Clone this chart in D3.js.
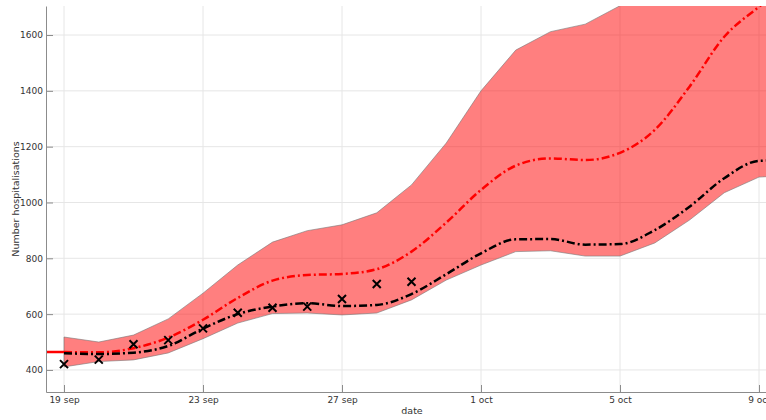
<!DOCTYPE html>
<html>
<head>
<meta charset="utf-8">
<script src="https://cdn.jsdelivr.net/npm/d3@7"></script>
<style>
  body { margin: 0; background: #fff; }
  svg { display: block; font-family: "DejaVu Sans", sans-serif; }
  .grid line { stroke: #e6e6e6; stroke-width: 1; }
  .axis path, .axis line { stroke: #8c8c8c; }
  .axis text { fill: #333; font-size: 9px; font-family: "DejaVu Sans", sans-serif; }
</style>
</head>
<body>
<svg id="chart"></svg>
<script>
// days shown, starting 19 sep
const days = ['2020-09-19', '2020-09-20', '2020-09-21', '2020-09-22', '2020-09-23',
  '2020-09-24', '2020-09-25', '2020-09-26', '2020-09-27', '2020-09-28', '2020-09-29',
  '2020-09-30', '2020-10-01', '2020-10-02', '2020-10-03', '2020-10-04', '2020-10-05',
  '2020-10-06', '2020-10-07', '2020-10-08', '2020-10-09', '2020-10-10'];

const bandUpper = [518, 500, 525, 583, 675, 776, 858, 899, 920, 963, 1063, 1213,
  1400, 1546, 1612, 1639, 1705, 1780, 1860, 1930, 1990, 2050];
const bandLower = [411, 430, 436, 461, 512, 568, 602, 604, 597, 604, 651, 722,
  776, 824, 827, 808, 808, 855, 937, 1035, 1091, 1098];
const redMedian = [464, 463, 478, 516, 580, 658, 720, 740, 744, 761, 824, 928,
  1045, 1132, 1158, 1152, 1178, 1260, 1415, 1594, 1701, 1800];
const blackMedian = [460, 457, 462, 486, 548, 600, 627, 639, 629, 633, 672, 743,
  818, 868, 869, 849, 851, 901, 985, 1087, 1149, 1152];

// observed counts
const obsDays = days.slice(0, 11);
const observed = [421, 437, 492, 507, 549, 605, 623, 627, 654, 708, 716];

// fit before the forecast start
const fitDays = ['2020-09-17', '2020-09-19'];
const fitValues = [464, 464];

const xTicks = ['2020-09-19', '2020-09-23', '2020-09-27', '2020-10-01', '2020-10-05', '2020-10-09'];
const yTicks = [400, 600, 800, 1000, 1200, 1400, 1600];
const months = ['jan', 'feb', 'mar', 'apr', 'may', 'jun', 'jul', 'aug', 'sep', 'oct', 'nov', 'dec'];

const width = 766, height = 420;
const margin = { top: 6, right: 0, bottom: 28, left: 46 };
const parse = d3.utcParse('%Y-%m-%d');

const svg = d3.select('#chart').attr('width', width).attr('height', height);

const x = d3.scaleUtc()
  .domain([new Date(Date.UTC(2020, 8, 18, 11, 34)), new Date(Date.UTC(2020, 9, 9, 4, 50))])
  .range([margin.left, width - margin.right]);

const y = d3.scaleLinear()
  .domain([321, 1704])
  .range([height - margin.bottom, margin.top]);

svg.append('defs').append('clipPath').attr('id', 'clip')
  .append('rect')
  .attr('x', margin.left).attr('y', margin.top)
  .attr('width', width - margin.left - margin.right)
  .attr('height', height - margin.top - margin.bottom);

// grid
const grid = svg.append('g').attr('class', 'grid');
grid.selectAll('.gy').data(yTicks).enter().append('line')
  .attr('x1', margin.left).attr('x2', width - margin.right)
  .attr('y1', d => y(d)).attr('y2', d => y(d));
grid.selectAll('.gx').data(xTicks).enter().append('line')
  .attr('x1', d => x(parse(d))).attr('x2', d => x(parse(d)))
  .attr('y1', margin.top).attr('y2', height - margin.bottom);

const plot = svg.append('g').attr('clip-path', 'url(#clip)');

const bandData = days.map((d, i) => ({ date: parse(d), lo: bandLower[i], hi: bandUpper[i] }));

const area = d3.area()
  .x(d => x(d.date))
  .y0(d => y(d.lo))
  .y1(d => y(d.hi));

plot.append('path')
  .datum(bandData)
  .attr('d', area)
  .attr('fill', 'rgba(255,0,0,0.5)')
  .attr('stroke', '#777')
  .attr('stroke-width', 0.6);

const line = d3.line()
  .x(d => x(d.date))
  .y(d => y(d.v))
  .curve(d3.curveMonotoneX);

const series = (dates, vals) => dates.map((d, i) => ({ date: parse(d), v: vals[i] }));

plot.append('path')
  .datum(series(fitDays, fitValues))
  .attr('d', d3.line().x(d => x(d.date)).y(d => y(d.v)))
  .attr('fill', 'none')
  .attr('stroke', '#ff0000')
  .attr('stroke-width', 2.5);

plot.append('path')
  .datum(series(days, redMedian))
  .attr('d', line)
  .attr('fill', 'none')
  .attr('stroke', '#ff0000')
  .attr('stroke-width', 2.5)
  .attr('stroke-dasharray', '8,3,2,3');

plot.append('path')
  .datum(series(days, blackMedian))
  .attr('d', line)
  .attr('fill', 'none')
  .attr('stroke', '#000')
  .attr('stroke-width', 2.5)
  .attr('stroke-dasharray', '8,3,2,3');

// observations as crosses
const s = 4;
plot.selectAll('.obs')
  .data(series(obsDays, observed))
  .enter().append('path')
  .attr('class', 'obs')
  .attr('d', d => {
    const cx = x(d.date), cy = y(d.v);
    return `M${cx - s},${cy - s}L${cx + s},${cy + s}M${cx - s},${cy + s}L${cx + s},${cy - s}`;
  })
  .attr('stroke', '#000')
  .attr('stroke-width', 2);

// axes
svg.append('g')
  .attr('class', 'axis')
  .attr('transform', `translate(0,${height - margin.bottom})`)
  .call(d3.axisBottom(x)
    .tickValues(xTicks.map(parse))
    .tickFormat(d => `${d.getUTCDate()} ${months[d.getUTCMonth()]}`)
    .tickSizeInner(-7).tickSizeOuter(0).tickPadding(5))
  .attr('font-family', null);

svg.append('g')
  .attr('class', 'axis')
  .attr('transform', `translate(${margin.left},0)`)
  .call(d3.axisLeft(y)
    .tickValues(yTicks)
    .tickFormat(d3.format('d'))
    .tickSizeInner(-7).tickSizeOuter(0).tickPadding(3))
  .attr('font-family', null);

svg.append('text')
  .attr('x', 412).attr('y', 414)
  .attr('text-anchor', 'middle')
  .attr('font-size', 9.5).attr('fill', '#333')
  .text('date');

svg.append('text')
  .attr('transform', `translate(19,${(margin.top + height - margin.bottom) / 2}) rotate(-90)`)
  .attr('text-anchor', 'middle')
  .attr('font-size', 9.5).attr('fill', '#333')
  .text('Number hospitalisations');
</script>
</body>
</html>
